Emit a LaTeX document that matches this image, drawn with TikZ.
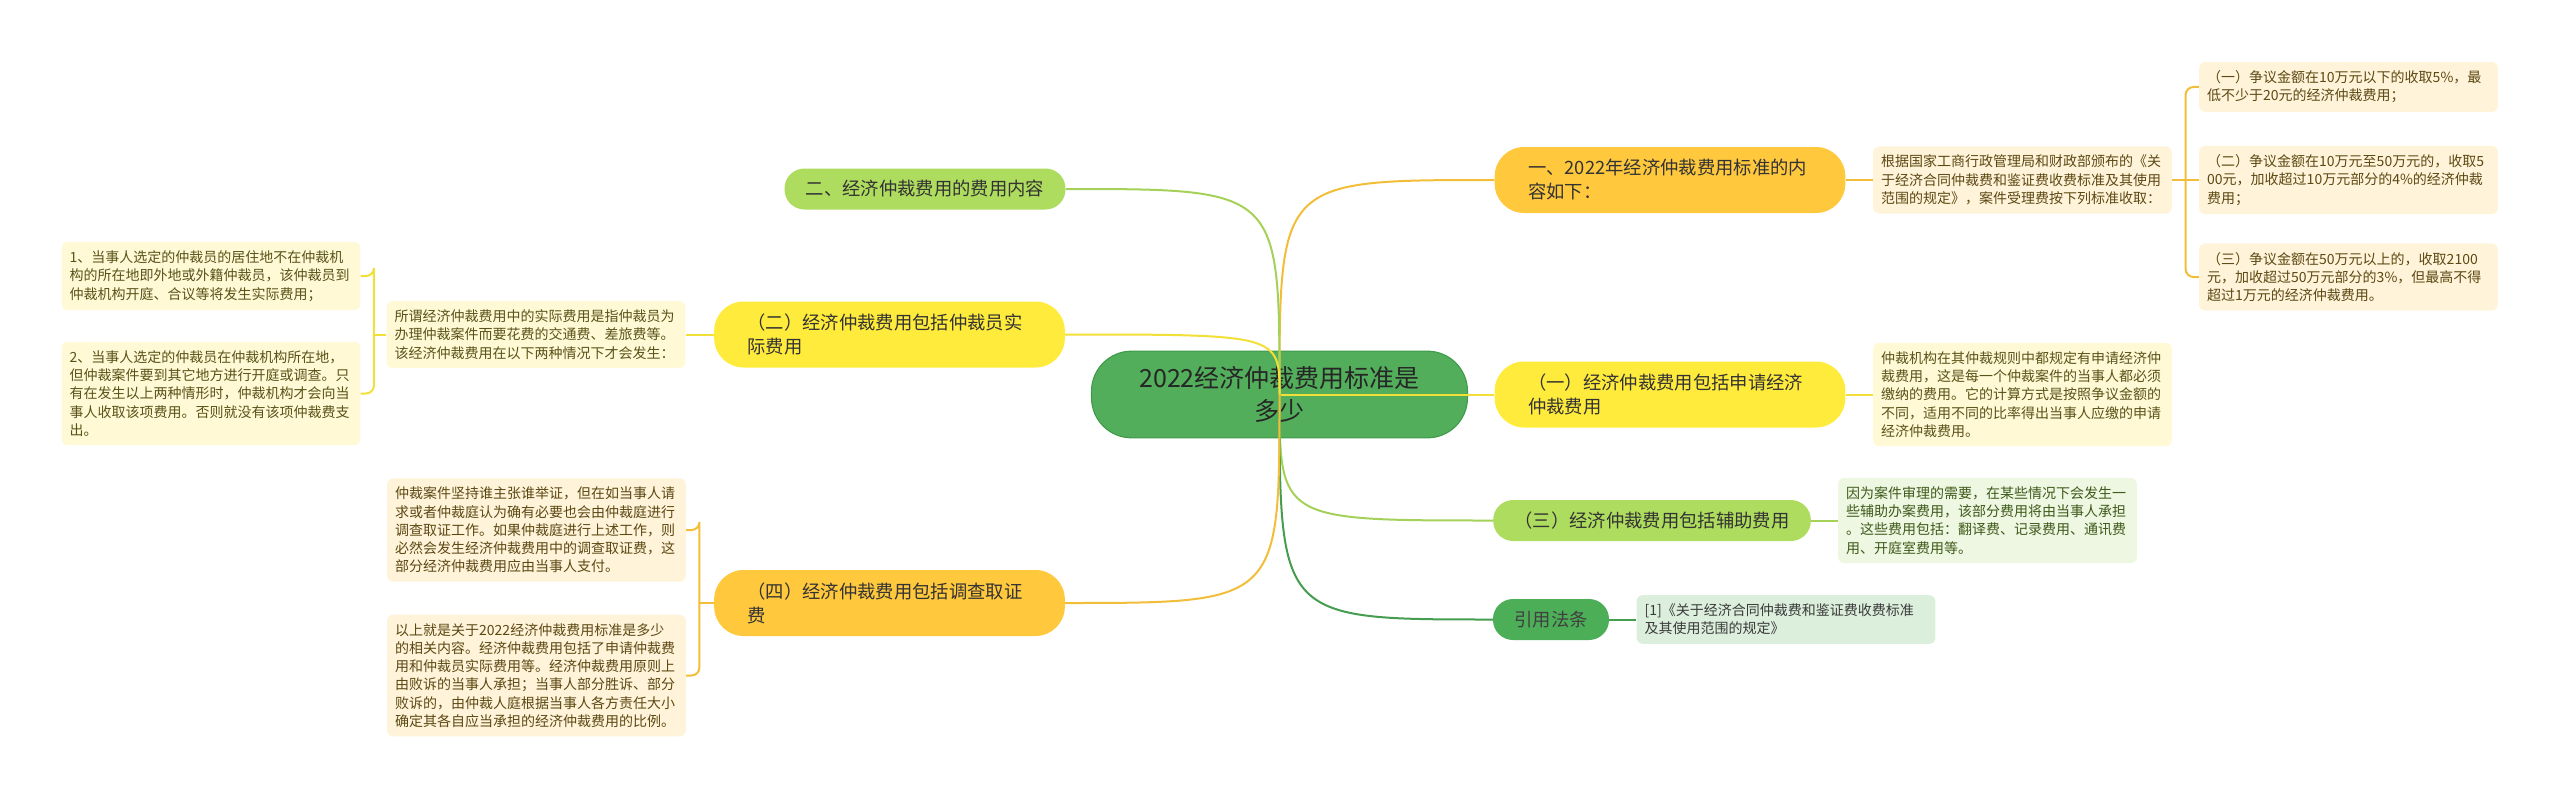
\documentclass[tikz,border=0pt]{standalone}
\usepackage{fontspec}
\setmainfont{Noto Sans CJK SC}
\definecolor{rootFill}{HTML}{52AE5B}
\definecolor{rootEdge}{HTML}{3F9A49}
\definecolor{amberFill}{HTML}{FFC83D}
\definecolor{amberLeaf}{HTML}{FFF4D9}
\definecolor{amberText}{HTML}{5C4813}
\definecolor{yellowFill}{HTML}{FFEB3B}
\definecolor{yellowLeaf}{HTML}{FFF9D6}
\definecolor{yellowText}{HTML}{5A5218}
\definecolor{limeFill}{HTML}{AEDC5E}
\definecolor{limeLeaf}{HTML}{EEF7E1}
\definecolor{limeText}{HTML}{3F5A1B}
\definecolor{greenFill}{HTML}{4DAE58}
\definecolor{greenLeaf}{HTML}{DCEFDC}
\definecolor{greenText}{HTML}{3A3A3A}

\begin{document}
\begin{tikzpicture}[x=0.75pt, y=-0.75pt,
  root/.style={draw=rootEdge, line width=0.8pt, fill=rootFill, rounded corners=30pt,
    align=center, text width=250pt, inner xsep=16pt, minimum height=65pt,
    font=\fontsize{18.75}{24.75}\selectfont, text=black!85},
  topic/.style={font=\fontsize{13.75}{18}\selectfont, text=black!80},
  topictwo/.style={topic, align=left, text width=213pt, inner xsep=25pt, inner ysep=9pt,
    minimum height=49.5pt, rounded corners=22pt},
  topicone/.style={topic, inner xsep=16pt, inner ysep=8.5pt, minimum height=30.75pt,
    rounded corners=15pt},
  leaf/.style={align=left, text width=212pt, inner xsep=6pt, inner ysep=6.5pt,
    rounded corners=4.5pt, font=\fontsize{10.5}{13.7}\selectfont},
  amberleaf/.style={leaf, fill=amberLeaf, text=amberText},
  yellowleaf/.style={leaf, fill=yellowLeaf, text=yellowText},
  limeleaf/.style={leaf, fill=limeLeaf, text=limeText},
  greenleaf/.style={leaf, fill=greenLeaf, text=greenText},
  link/.style={line width=1.5pt},
  amberlink/.style={link, draw=amberFill!95!black},
  yellowlink/.style={link, draw=yellowFill!95!black},
  limelink/.style={link, draw=limeFill!95!black},
  greenlink/.style={link, draw=greenFill!90!black}]
  \useasboundingbox (0,0) rectangle (2560,799);

  % Nodes
  \node[root] (root) at (1279.5,394.5) {2022经济仲裁费用标准是\\多少};

  \node[topictwo, fill=amberFill] (N1) at (1670,180) {一、2022年经济仲裁费用标准的内\\容如下：};
  \node[topictwo, fill=yellowFill] (N2) at (1670,394.5) {（一）经济仲裁费用包括申请经济\\仲裁费用};
  \node[topicone, fill=limeFill] (N3) at (1652,520.5) {（三）经济仲裁费用包括辅助费用};
  \node[topicone, fill=greenFill, text=black!75] (N4) at (1551,619.5) {引用法条};

  \node[topicone, fill=limeFill] (M1) at (925,189) {二、经济仲裁费用的费用内容};
  \node[topictwo, fill=yellowFill] (M2) at (889.5,334.5) {（二）经济仲裁费用包括仲裁员实\\际费用};
  \node[topictwo, fill=amberFill] (M3) at (889.5,603) {（四）经济仲裁费用包括调查取证\\费};

  \node[amberleaf] (R1) at (2022.5,180) {根据国家工商行政管理局和财政部颁布的《关\\于经济合同仲裁费和鉴证费收费标准及其使用\\范围的规定》，案件受理费按下列标准收取：};
  \node[amberleaf] (R1a) at (2348.5,87) {（一）争议金额在10万元以下的收取5\%，最\\低不少于20元的经济仲裁费用；};
  \node[amberleaf] (R1b) at (2348.5,180) {（二）争议金额在10万元至50万元的，收取5\\00元，加收超过10万元部分的4\%的经济仲裁\\费用；};
  \node[amberleaf] (R1c) at (2348.5,277) {（三）争议金额在50万元以上的，收取2100\\元，加收超过50万元部分的3\%，但最高不得\\超过1万元的经济仲裁费用。};
  \node[yellowleaf] (R2) at (2022.5,394.5) {仲裁机构在其仲裁规则中都规定有申请经济仲\\裁费用，这是每一个仲裁案件的当事人都必须\\缴纳的费用。它的计算方式是按照争议金额的\\不同，适用不同的比率得出当事人应缴的申请\\经济仲裁费用。};
  \node[limeleaf] (R3) at (1987.5,520.5) {因为案件审理的需要，在某些情况下会发生一\\些辅助办案费用，该部分费用将由当事人承担\\。这些费用包括：翻译费、记录费用、通讯费\\用、开庭室费用等。};
  \node[greenleaf] (R4) at (1786,619.5) {[1]《关于经济合同仲裁费和鉴证费收费标准\\及其使用范围的规定》};

  \node[yellowleaf] (L0) at (536,334.5) {所谓经济仲裁费用中的实际费用是指仲裁员为\\办理仲裁案件而要花费的交通费、差旅费等。\\该经济仲裁费用在以下两种情况下才会发生：};
  \node[yellowleaf] (L1a) at (211,276) {1、当事人选定的仲裁员的居住地不在仲裁机\\构的所在地即外地或外籍仲裁员，该仲裁员到\\仲裁机构开庭、合议等将发生实际费用；};
  \node[yellowleaf] (L1b) at (211,393.5) {2、当事人选定的仲裁员在仲裁机构所在地，\\但仲裁案件要到其它地方进行开庭或调查。只\\有在发生以上两种情形时，仲裁机构才会向当\\事人收取该项费用。否则就没有该项仲裁费支\\出。};
  \node[amberleaf] (L2a) at (536.5,530) {仲裁案件坚持谁主张谁举证，但在如当事人请\\求或者仲裁庭认为确有必要也会由仲裁庭进行\\调查取证工作。如果仲裁庭进行上述工作，则\\必然会发生经济仲裁费用中的调查取证费，这\\部分经济仲裁费用应由当事人支付。};
  \node[amberleaf] (L2b) at (536.5,675.5) {以上就是关于2022经济仲裁费用标准是多少\\的相关内容。经济仲裁费用包括了申请仲裁费\\用和仲裁员实际费用等。经济仲裁费用原则上\\由败诉的当事人承担；当事人部分胜诉、部分\\败诉的，由仲裁人庭根据当事人各方责任大小\\确定其各自应当承担的经济仲裁费用的比例。};

  % Branches from the root
  \draw[amberlink] (root.center) .. controls (root.center |- N1.west) .. (N1.west);
  \draw[yellowlink] (root.center) -- (N2.west);
  \draw[limelink] (root.center) .. controls (root.center |- N3.west) .. (N3.west);
  \draw[greenlink] (root.center) .. controls (root.center |- N4.west) .. (N4.west);
  \draw[limelink] (root.center) .. controls (root.center |- M1.east) .. (M1.east);
  \draw[yellowlink] (root.center) .. controls (root.center |- M2.east) .. (M2.east);
  \draw[amberlink] (root.center) .. controls (root.center |- M3.east) .. (M3.east);

  % Leaf links
  \coordinate (rb) at ([xshift=-10pt]R1b.west);
  \draw[amberlink] (N1.east) -- (R1.west);
  \draw[amberlink] (R1.east) -- (R1b.west);
  \draw[amberlink, rounded corners=6pt] (R1a.west) -| (rb) |- (R1c.west);
  \draw[yellowlink] (N2.east) -- (R2.west);
  \draw[limelink] (N3.east) -- (R3.west);
  \draw[greenlink] (N4.east) -- (R4.west);

  \coordinate (lb) at ([xshift=10pt]L1a.east);
  \draw[yellowlink] (M2.west) -- (L0.east);
  \draw[yellowlink] (L0.west) -- (lb |- L0.west);
  \draw[yellowlink, rounded corners=6pt] (L1a.east) -| (lb) |- (L1b.east);

  \coordinate (lc) at ([xshift=10pt]L2a.east);
  \draw[amberlink] (M3.west) -- (lc |- M3.west);
  \draw[amberlink, rounded corners=6pt] (L2a.east) -| (lc) |- (L2b.east);
\end{tikzpicture}
\end{document}
